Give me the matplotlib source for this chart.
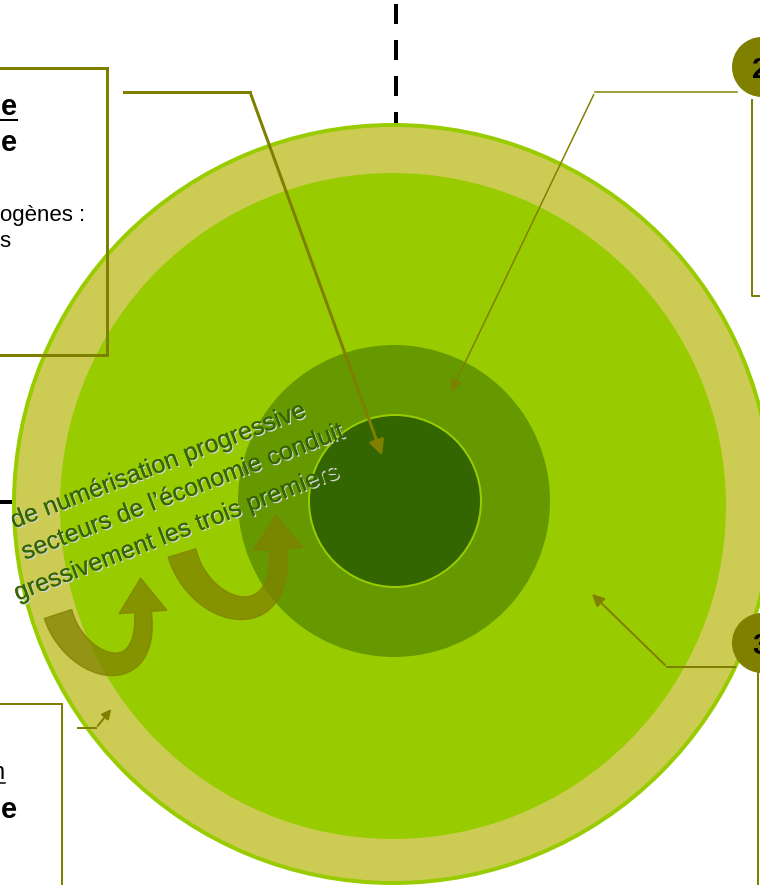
import matplotlib.pyplot as plt
import matplotlib.patheffects as pe
from matplotlib.patches import Circle, Rectangle, Polygon
import numpy as np

plt.rcParams['font.family'] = ['Liberation Sans', 'DejaVu Sans']

# texts of the diagram, as far as they are visible in the slide crop
box1_lines = ["e", "e"]
box1_body = ["ogènes :", "s"]
box3_lines = ["n", "e"]
curve_text = ["de numérisation progressive",
              "secteurs de l’économie conduit",
              "gressivement les trois premiers"]
badges = ["2", "3"]

OLIVE = "#808000"
PX = 0.72  # px -> pt

fig = plt.figure(figsize=(7.6, 8.85), dpi=100)
ax = fig.add_axes([0, 0, 1, 1])
ax.set_xlim(0, 760)
ax.set_ylim(885, 0)
ax.axis('off')

# concentric circles
cx, cy = 393, 504
ax.add_patch(Circle((cx, cy), 379, facecolor="#cccc55", edgecolor="#99cc00", lw=4 * PX, zorder=1))
ax.add_patch(Circle((cx, cy + 2), 333, facecolor="#99cc00", edgecolor="none", zorder=2))
ax.add_patch(Circle((cx + 1, cy - 3), 156, facecolor="#669900", edgecolor="none", zorder=3))
ax.add_patch(Circle((cx + 2, cy - 3), 86, facecolor="#336600", edgecolor="#99cc00", lw=2 * PX, zorder=4))

# dashed black axis at top and the small dash on the left
ax.plot([396, 396], [4, 124], color="black", lw=4 * PX, dashes=(20 / 4, 16 / 4), zorder=0)
ax.plot([-20, 10], [502, 502], color="black", lw=4 * PX, zorder=0)


def bez(p0, c1, c2, p3, n=60):
    t = np.linspace(0, 1, n)[:, None]
    p0, c1, c2, p3 = map(np.asarray, (p0, c1, c2, p3))
    return (1 - t) ** 3 * p0 + 3 * (1 - t) ** 2 * t * c1 + 3 * (1 - t) * t ** 2 * c2 + t ** 3 * p3


def curved_arrow(p0, c1, c2, p3, w0, w1, head_w, head_len):
    pts = bez(p0, c1, c2, p3)
    tan = np.gradient(pts, axis=0)
    tan /= np.linalg.norm(tan, axis=1)[:, None]
    nor = np.c_[-tan[:, 1], tan[:, 0]]
    w = np.linspace(w0, w1, len(pts))[:, None] / 2
    left = pts + nor * w
    right = pts - nor * w
    d = tan[-1]
    nd = nor[-1]
    end = pts[-1]
    head = [end + nd * head_w / 2, end + d * head_len, end - nd * head_w / 2]
    poly = np.vstack([left, head, right[::-1]])
    ax.add_patch(Polygon(poly, closed=True, facecolor=OLIVE, edgecolor=OLIVE,
                         alpha=0.75, lw=1, zorder=6))


curved_arrow((58, 614), (75, 670), (150, 692), (143, 612), 29, 17, 48, 34)
curved_arrow((182, 553), (200, 617), (285, 637), (278, 549), 29, 17, 50, 34)

# rotated text
shadow = [pe.withSimplePatchShadow(offset=(1, -1), shadow_rgbFace="#d0d0d0", alpha=1), pe.Normal()]
ends = [(307, 416), (345, 437), (340, 477)]
for s, (x, y) in zip(curve_text, ends):
    ax.text(x, y, s, rotation=21, rotation_mode='anchor', ha='right', va='baseline',
            fontsize=18, color="#336600", path_effects=shadow, zorder=7)

# top-left box
ax.add_patch(Rectangle((-10, 68), 117, 287, facecolor="none", edgecolor=OLIVE, lw=3 * PX, zorder=8))
ax.text(17, 115, box1_lines[0], ha='right', va='baseline', fontsize=21, fontweight='bold', zorder=8)
ax.plot([-5, 17], [120, 120], color="black", lw=2 * PX, zorder=8)
ax.text(17, 151, box1_lines[1], ha='right', va='baseline', fontsize=21, fontweight='bold', zorder=8)
ax.text(85, 221, box1_body[0], ha='right', va='baseline', fontsize=16, zorder=8)
ax.text(10, 247, box1_body[1], ha='right', va='baseline', fontsize=16, zorder=8)

# connector from top-left box to the core
ax.plot([124, 250], [92, 92], color=OLIVE, lw=3 * PX, zorder=9)
ax.annotate('', xy=(383, 458), xytext=(250, 92),
            arrowprops=dict(arrowstyle='-|>', color=OLIVE, lw=3 * PX, mutation_scale=22), zorder=9)

# badge 2 and its box
ax.add_patch(Circle((762, 67), 30, facecolor=OLIVE, edgecolor="none", zorder=8))
ax.text(752, 78, badges[0], ha='left', va='baseline', fontsize=21, fontweight='bold', zorder=9)
ax.plot([752, 752, 780], [100, 296, 296], color=OLIVE, lw=2 * PX, zorder=8)
ax.plot([737, 595], [92, 92], color=OLIVE, lw=1.5 * PX, zorder=9)
ax.annotate('', xy=(450, 394), xytext=(595, 92),
            arrowprops=dict(arrowstyle='-|>', color=OLIVE, lw=1.5 * PX, mutation_scale=18), zorder=9)

# badge 3 and its line
ax.add_patch(Circle((762, 643), 30, facecolor=OLIVE, edgecolor="none", zorder=8))
ax.text(752, 654, badges[1], ha='left', va='baseline', fontsize=21, fontweight='bold', zorder=9)
ax.plot([758, 758], [673, 890], color=OLIVE, lw=2 * PX, zorder=8)
ax.plot([735, 667], [667, 667], color=OLIVE, lw=2 * PX, zorder=9)
ax.annotate('', xy=(590, 592), xytext=(667, 667),
            arrowprops=dict(arrowstyle='-|>', color=OLIVE, lw=2 * PX, mutation_scale=18), zorder=9)

# bottom-left box
ax.add_patch(Rectangle((-10, 704), 72, 200, facecolor="none", edgecolor=OLIVE, lw=2 * PX, zorder=8))
ax.text(5, 779, box3_lines[0], ha='right', va='baseline', fontsize=17, zorder=8)
ax.plot([-5, 5], [783, 783], color="black", lw=1.5 * PX, zorder=8)
ax.text(17, 818, box3_lines[1], ha='right', va='baseline', fontsize=21, fontweight='bold', zorder=8)
ax.plot([78, 96], [728, 728], color=OLIVE, lw=2 * PX, zorder=9)
ax.annotate('', xy=(113, 707), xytext=(96, 728),
            arrowprops=dict(arrowstyle='-|>', color=OLIVE, lw=2 * PX, mutation_scale=14), zorder=9)

fig.savefig("out.png", dpi=100)
